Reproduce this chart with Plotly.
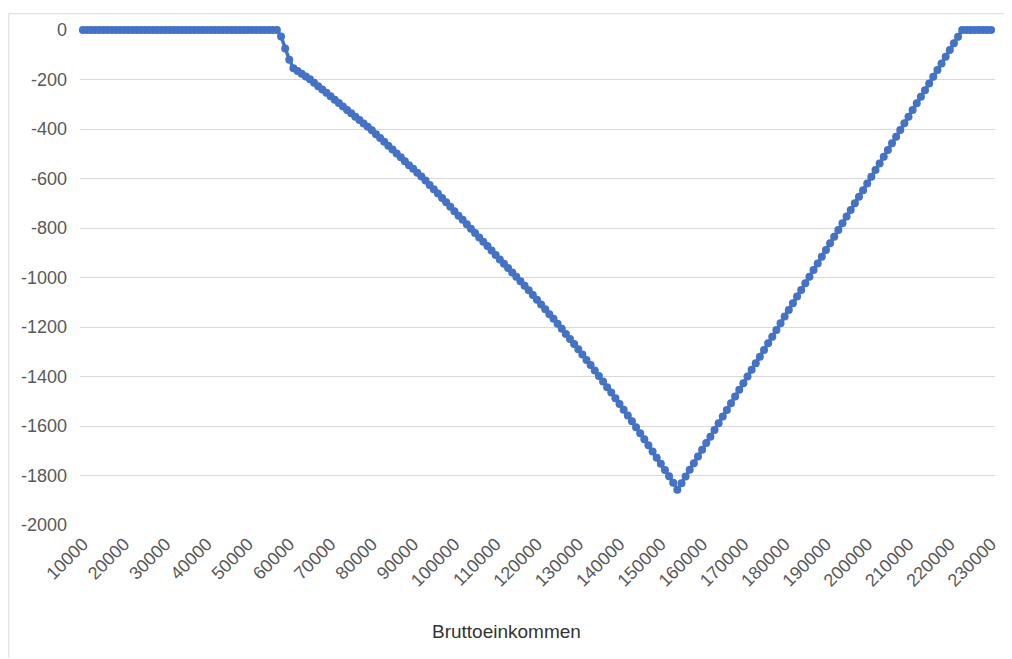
import plotly.graph_objects as go

# Categories: gross income (Bruttoeinkommen), step 1000
einkommen = list(range(10000, 231000, 1000))

# Values (one per category)
werte = [
    # 10000 - 57000
    0, 0, 0, 0, 0, 0, 0, 0, 0, 0,
    0, 0, 0, 0, 0, 0, 0, 0, 0, 0,
    0, 0, 0, 0, 0, 0, 0, 0, 0, 0,
    0, 0, 0, 0, 0, 0, 0, 0, 0, 0,
    0, 0, 0, 0, 0, 0, 0, 0,
    # 58000 - 61000
    -26, -75, -120, -155,
    # 62000 - 80000
    -166, -177, -188, -199, -213, -227, -240, -254, -268, -282,
    -295, -309, -323, -336, -350, -364, -378, -391, -405,
    # 81000 - 93000
    -421, -436, -452, -468, -483, -499, -514, -530, -546, -561,
    -577, -592, -608,
    # 94000 - 115000
    -626, -643, -661, -679, -696, -714, -732, -750, -767, -785,
    -803, -820, -838, -856, -873, -891, -909, -927, -944, -962,
    -980, -997,
    # 116000 - 154000
    -1015, -1033, -1052, -1071, -1090, -1109, -1128, -1148, -1167, -1187,
    -1207, -1228, -1248, -1269, -1290, -1311, -1333, -1354, -1376, -1398,
    -1420, -1443, -1465, -1488, -1511, -1534, -1558, -1581, -1605, -1629,
    -1654, -1678, -1703, -1728, -1753, -1778, -1803, -1829, -1858,
    # 155000 - 223000
    -1831, -1804, -1777, -1750, -1723, -1696, -1669, -1643, -1616, -1589,
    -1562, -1535, -1508, -1481, -1454, -1427, -1400, -1373, -1346, -1320,
    -1293, -1266, -1239, -1212, -1185, -1158, -1131, -1104, -1077, -1050,
    -1023, -997, -970, -943, -916, -889, -862, -835, -808, -781,
    -754, -727, -700, -674, -647, -620, -593, -566, -539, -512,
    -485, -458, -431, -404, -377, -350, -323, -296, -270, -243,
    -216, -189, -162, -135, -108, -81, -54, -27, 0,
    # 224000 - 230000
    0, 0, 0, 0, 0, 0, 0,
]

x_ticks = list(range(10000, 240000, 10000))
y_ticks = list(range(-2000, 1, 200))

# the page body has an 8px margin, so the figure is sized/offset to match
W, H = 1004, 651
L, R, T, B = 72, 13, 17, 134
pw, ph = W - L - R, H - T - B

fig = go.Figure()
fig.add_trace(go.Scatter(
    x=einkommen, y=werte, mode="lines+markers",
    line=dict(color="#4472C4", width=3.5),
    marker=dict(color="#4472C4", size=8),
    cliponaxis=False, showlegend=False,
))

font_tick = dict(family="Liberation Sans, Arial, sans-serif", size=18, color="#595959")

fig.update_layout(
    width=W, height=H,
    margin=dict(l=L, r=R, t=T, b=B),
    paper_bgcolor="white", plot_bgcolor="white",
    xaxis=dict(
        range=[9300, 230950], tickvals=x_ticks, ticktext=[str(v) for v in x_ticks],
        tickangle=-45, tickfont=font_tick, showgrid=False, zeroline=False,
        showline=False, ticks="", ticklabelstandoff=4,
    ),
    yaxis=dict(
        range=[-2000, 0], tickvals=y_ticks, ticktext=[str(v) for v in y_ticks],
        tickfont=font_tick, showgrid=True, gridcolor="#D9D9D9", gridwidth=1,
        zeroline=False, showline=False, ticks="", ticklabelstandoff=12,
    ),
    annotations=[dict(
        text="Bruttoeinkommen", xref="paper", yref="paper",
        x=(500 - L) / pw, y=-(625 - T - ph) / ph, xanchor="center", yanchor="middle",
        showarrow=False, font=dict(family="Liberation Sans, Arial, sans-serif", size=19, color="#333333"),
    )],
    shapes=[
        dict(type="line", xref="paper", yref="paper",
             x0=(0.5 - L) / pw, x1=(0.5 - L) / pw, y0=(T + ph - H) / ph, y1=1 + (T - 0.5) / ph,
             line=dict(color="#D9D9D9", width=1)),
        dict(type="line", xref="paper", yref="paper",
             x0=(0.5 - L) / pw, x1=(W - L) / pw, y0=1 + (T - 0.5) / ph, y1=1 + (T - 0.5) / ph,
             line=dict(color="#D9D9D9", width=1)),
    ],
)

fig.write_html("out.html")
